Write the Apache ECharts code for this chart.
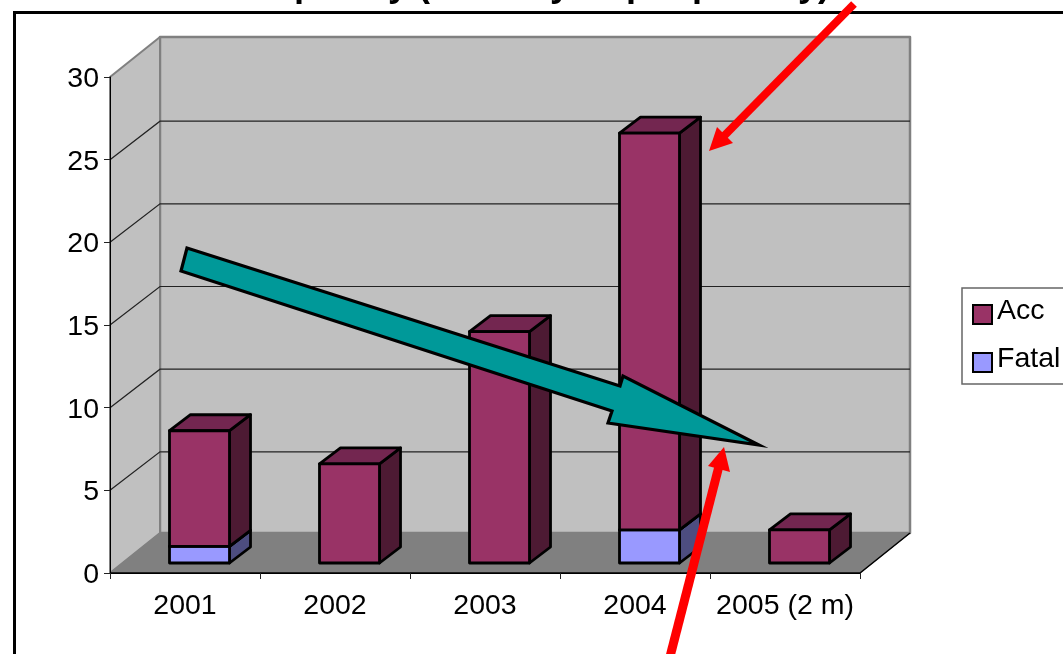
<!DOCTYPE html>
<html><head><meta charset="utf-8">
<style>html,body{margin:0;padding:0;background:#fff;overflow:hidden}#c{width:1063px;height:654px}</style>
<script src="https://cdn.jsdelivr.net/npm/echarts@6/dist/echarts.min.js"></script>
</head><body><div id="c"></div>
<script>
const categories = ['2001','2002','2003','2004','2005 (2 m)'];
const fatalValues = [1,0,0,2,0];
const accValues = [7,6,14,24,2];
const yTicks = [5,10,15,20,25];
const FONT = '"Liberation Sans", Arial, sans-serif';
const WALL = [50,-40], GRIDBACK = [50,-38.5], SHIFT = [14.5,-10], DEPTH = [21,-16], HALF = 30;

const chart = echarts.init(document.getElementById('c'), null, {renderer:'canvas'});
const off = (p,d)=>[p[0]+d[0],p[1]+d[1]];
const poly = (pts,fill,stroke,w,z2)=>({type:'polygon',z2:z2||0,shape:{points:pts},style:{fill:fill,stroke:stroke,lineWidth:w,lineJoin:'round'}});
const line = (pts,stroke,w,z2)=>({type:'polyline',z2:z2||0,shape:{points:pts},style:{fill:null,stroke:stroke,lineWidth:w}});

function renderWalls(params, api){
  const n = categories.length;
  const a = api.coord([0,0]), size = api.size([1,0]);
  const x0 = a[0]-size[0]/2, x1 = x0+size[0]*n, y0 = a[1], y1 = api.coord([0,30])[1];
  const fl=[x0,y0], fr=[x1,y0], tl=[x0,y1];
  return {type:'group',children:[
    poly([off(tl,WALL),[x1+WALL[0],y1+WALL[1]],off(fr,WALL),off(fl,WALL)],'#C0C0C0','#808080',2.5,0),
    poly([tl,off(tl,WALL),off(fl,WALL),fl],'#C0C0C0','#808080',2,1),
    poly([fl,off(fl,WALL),off(fr,WALL),fr],'#808080','#808080',1,2),
    line([fl,fr,off(fr,WALL)],'#000',1.5,3)
  ]};
}
function renderGrid(params, api){
  const n = categories.length, v = api.value(0);
  const a = api.coord([0,v]), size = api.size([1,0]);
  const x0 = a[0]-size[0]/2, x1 = x0+size[0]*n, y = a[1];
  return {type:'group',children:[line([[x0,y],off([x0,y],GRIDBACK),[x1+GRIDBACK[0],y+GRIDBACK[1]]],'#222',1.2,5)]};
}
function renderBox(front, top, side){
  return function(params, api){
    const c = api.value(0), lo = api.value(1), hi = api.value(2);
    if (hi<=lo) return null;
    const bl = off(api.coord([c,lo]),SHIFT), tl = off(api.coord([c,hi]),SHIFT);
    const x0 = bl[0]-HALF, x1 = bl[0]+HALF, yb = bl[1], yt = tl[1];
    return {type:'group',children:[
      poly([[x1,yb],off([x1,yb],DEPTH),off([x1,yt],DEPTH),[x1,yt]],side,'#000',2.8,1),
      poly([[x0,yt],off([x0,yt],DEPTH),off([x1,yt],DEPTH),[x1,yt]],top,'#000',2.8,1),
      poly([[x0,yb],[x1,yb],[x1,yt],[x0,yt]],front,'#000',2.8,2)
    ]};
  };
}
const fatalData = categories.map((_,i)=>[i,0,fatalValues[i]]);
const accData = categories.map((_,i)=>[i,fatalValues[i],fatalValues[i]+accValues[i]]);

chart.setOption({
  animation:false,
  backgroundColor:'#fff',
  grid:{left:110,top:77,width:750,height:496,containLabel:false},
  xAxis:{type:'category',data:categories,z:6,
    axisLine:{lineStyle:{color:'#000',width:1}},
    axisTick:{show:true,length:6,lineStyle:{color:'#222',width:1}},
    axisLabel:{color:'#000',fontFamily:FONT,fontSize:28.5,margin:19,interval:0},splitLine:{show:false}},
  yAxis:{type:'value',min:0,max:30,interval:5,z:6,
    axisLine:{show:true,lineStyle:{color:'#000',width:1}},
    axisTick:{show:true,length:6,lineStyle:{color:'#222',width:1}},
    axisLabel:{margin:11,formatter:'{a|{value}}',rich:{a:{color:'#000',fontFamily:FONT,fontSize:28.5,lineHeight:28,padding:[4,0,0,0]}}},splitLine:{show:false}},
  legend:{orient:'vertical',left:962,top:288,icon:'rect',itemWidth:19,itemHeight:19,itemGap:13,
    padding:[9,60,4,10],backgroundColor:'#fff',borderColor:'#666',borderWidth:1.5,
    formatter:'{a|{name}}',
    textStyle:{color:'#000',fontFamily:FONT,fontSize:28.5,rich:{a:{color:'#000',fontFamily:FONT,fontSize:28.5,lineHeight:20,padding:[0,0,6,0]}}},
    data:[{name:'Acc',itemStyle:{color:'#993366',borderColor:'#000',borderWidth:2}},
          {name:'Fatal',itemStyle:{color:'#9999FF',borderColor:'#000',borderWidth:2}}]},
  series:[
    {type:'custom',name:'walls',z:1,silent:true,renderItem:renderWalls,data:[[0]],encode:{x:0},coordinateSystem:'cartesian2d'},
    {type:'custom',name:'grid',z:2,silent:true,renderItem:renderGrid,data:yTicks.map(v=>[v]),encode:{y:0}},
    {type:'custom',name:'Fatal',z:7,silent:true,renderItem:renderBox('#9999FF','#73739F','#4D4D80'),itemStyle:{color:'#9999FF',borderColor:'#000',borderWidth:2},data:fatalData,encode:{x:0,y:2}},
    {type:'custom',name:'Acc',z:8,silent:true,renderItem:renderBox('#993366','#732650','#4D1A33'),itemStyle:{color:'#993366',borderColor:'#000',borderWidth:2},data:accData,encode:{x:0,y:2}}
  ],
  graphic:[
    {type:'rect',z:-10,silent:true,shape:{x:14.5,y:12.5,width:1200,height:800},style:{fill:'#fff',stroke:'#000',lineWidth:3}},
    {type:'text',z:50,silent:true,x:226,y:-32,style:{text:'Frequency (monthly or per penalty)',fill:'#000',font:'bold 36px '+FONT,align:'left',verticalAlign:'top'}},
    {type:'polygon',z:60,silent:true,shape:{points:[[187,248],[181,271],[612,411],[608,423],[759,445],[623,376],[620,386]]},style:{fill:'#009999',stroke:'#000',lineWidth:3.2,lineJoin:'miter',miterLimit:12}},
    {type:'line',z:61,silent:true,shape:{x1:854,y1:4,x2:724,y2:136},style:{stroke:'#FF0000',lineWidth:8}},
    {type:'polygon',z:61,silent:true,shape:{points:[[709,151],[717,127],[733,143]]},style:{fill:'#FF0000'}},
    {type:'line',z:61,silent:true,shape:{x1:719,y1:466,x2:664,y2:680},style:{stroke:'#FF0000',lineWidth:9}},
    {type:'polygon',z:61,silent:true,shape:{points:[[724,447],[708,466],[730,472]]},style:{fill:'#FF0000'}}
  ]
});
</script></body></html>
